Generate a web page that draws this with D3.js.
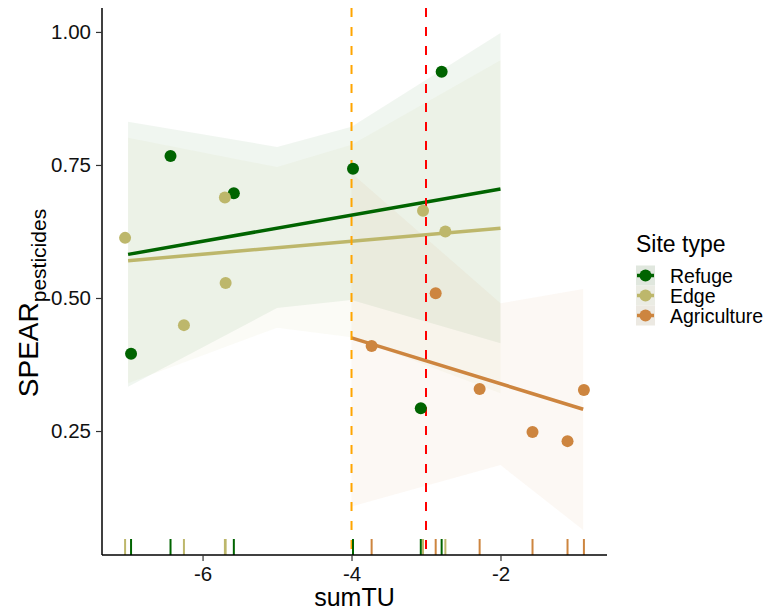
<!DOCTYPE html>
<html lang="en">
<head>
    <meta charset="utf-8">
    <title>SPEAR vs sumTU</title>
    <script type="text/javascript" src="https://cdn.jsdelivr.net/npm/d3@7"></script>
    <style type="text/css">
        body { margin: 0; background: #fff; }
        text { font-family: "Liberation Sans", Arial, sans-serif; }
    </style>
</head>
<body>
    <script type="text/javascript">

        //Width and height
        var w = 776;
        var h = 614;

        //Site types and colours
        var groups = ["Refuge", "Edge", "Agriculture"];
        var colors = ["#006400", "#BDB76B", "#CD853F"];

        //Observed points (sumTU, SPEAR)
        var refugeX = [-6.96, -6.43, -5.58, -3.98, -3.07, -2.79];
        var refugeY = [0.395, 0.767, 0.697, 0.743, 0.293, 0.925];
        var edgeX = [-7.04, -6.25, -5.69, -5.70, -3.04, -2.74];
        var edgeY = [0.613, 0.449, 0.528, 0.689, 0.664, 0.625];
        var agriX = [-3.73, -2.87, -2.28, -1.57, -1.10, -0.88];
        var agriY = [0.410, 0.509, 0.329, 0.248, 0.231, 0.327];

        //Fitted lines
        var refugeFitX = [-7, -2], refugeFitY = [0.582, 0.705];
        var edgeFitX = [-7, -2], edgeFitY = [0.570, 0.631];
        var agriFitX = [-4, -0.89], agriFitY = [0.425, 0.291];

        //Confidence bands
        var refugeBandX = [-7, -5, -4, -2];
        var refugeLo = [0.333, 0.481, 0.496, 0.415];
        var refugeHi = [0.831, 0.784, 0.822, 0.998];
        var edgeBandX = [-7, -5, -4, -2];
        var edgeLo = [0.340, 0.444, 0.426, 0.321];
        var edgeHi = [0.801, 0.746, 0.788, 0.947];
        var agriBandX = [-4, -2, -0.89];
        var agriLo = [0.108, 0.186, 0.064];
        var agriHi = [0.735, 0.490, 0.517];

        //Thresholds
        var thresholds = [-4, -3];
        var thresholdColors = ["#FFA500", "#FF0000"];

        //Axis ticks
        var xTicks = [-6, -4, -2];
        var yTicks = [0.25, 0.50, 0.75, 1.00];

        var zip = function (xs, ys) { return xs.map(function (x, i) { return [x, ys[i]]; }); };

        var series = [
            { pts: zip(refugeX, refugeY), fit: zip(refugeFitX, refugeFitY), band: refugeBandX.map(function (x, i) { return [x, refugeLo[i], refugeHi[i]]; }) },
            { pts: zip(edgeX, edgeY), fit: zip(edgeFitX, edgeFitY), band: edgeBandX.map(function (x, i) { return [x, edgeLo[i], edgeHi[i]]; }) },
            { pts: zip(agriX, agriY), fit: zip(agriFitX, agriFitY), band: agriBandX.map(function (x, i) { return [x, agriLo[i], agriHi[i]]; }) }
        ];

        //Panel
        var pL = 102, pR = 607, pT = 8, pB = 555;

        var x = d3.scaleLinear().domain([-7.35, -0.57]).range([pL, pR]);
        var y = d3.scaleLinear().domain([0.017, 1.045]).range([pB, pT]);

        //Create SVG element
        var svg = d3.select("body")
            .append("svg")
            .attr("width", w)
            .attr("height", h);

        //Bands
        var area = d3.area()
            .x(function (d) { return x(d[0]); })
            .y0(function (d) { return y(d[1]); })
            .y1(function (d) { return y(d[2]); });

        svg.selectAll("path.band")
            .data(series)
            .enter()
            .append("path")
            .attr("class", "band")
            .attr("d", function (d) { return area(d.band); })
            .style("fill", function (d, i) { return colors[i]; })
            .style("fill-opacity", 0.06);

        //Fit lines
        var line = d3.line()
            .x(function (d) { return x(d[0]); })
            .y(function (d) { return y(d[1]); });

        svg.selectAll("path.fit")
            .data(series)
            .enter()
            .append("path")
            .attr("class", "fit")
            .attr("d", function (d) { return line(d.fit); })
            .style("fill", "none")
            .style("stroke", function (d, i) { return colors[i]; })
            .style("stroke-width", 3.5);

        //Threshold lines
        svg.selectAll("line.thr")
            .data(thresholds)
            .enter()
            .append("line")
            .attr("class", "thr")
            .attr("x1", function (d) { return x(d); })
            .attr("x2", function (d) { return x(d); })
            .attr("y1", pT)
            .attr("y2", pB)
            .style("stroke", function (d, i) { return thresholdColors[i]; })
            .style("stroke-width", 2)
            .style("stroke-dasharray", "9,10");

        //Rug
        series.forEach(function (s, i) {
            svg.selectAll("line.rug" + i)
                .data(s.pts)
                .enter()
                .append("line")
                .attr("class", "rug" + i)
                .attr("x1", function (d) { return x(d[0]); })
                .attr("x2", function (d) { return x(d[0]); })
                .attr("y1", pB - 16)
                .attr("y2", pB)
                .style("stroke", colors[i])
                .style("stroke-width", 2);
        });

        //Points
        series.forEach(function (s, i) {
            svg.selectAll("circle.pt" + i)
                .data(s.pts)
                .enter()
                .append("circle")
                .attr("class", "pt" + i)
                .attr("cx", function (d) { return x(d[0]); })
                .attr("cy", function (d) { return y(d[1]); })
                .attr("r", 6)
                .style("fill", colors[i]);
        });

        //Axes
        var xAxis = d3.axisBottom(x).tickValues(xTicks).tickSize(6).tickPadding(5).tickFormat(function (d) { return String(d); });
        var yAxis = d3.axisLeft(y).tickValues(yTicks).tickSize(6).tickPadding(5).tickFormat(d3.format(".2f"));

        var gx = svg.append("g")
            .attr("transform", "translate(0," + pB + ")")
            .call(xAxis);
        gx.select(".domain").attr("d", "M" + pL + ",0H" + pR);

        var gy = svg.append("g")
            .attr("transform", "translate(" + pL + ",0)")
            .call(yAxis);
        gy.select(".domain").attr("d", "M0," + pT + "V" + pB);

        [gx, gy].forEach(function (g) {
            g.selectAll(".domain").style("stroke", "#000").style("stroke-width", 1.5);
            g.selectAll(".tick line").style("stroke", "#333").style("stroke-width", 1.2);
            g.selectAll(".tick text")
                .style("font-family", "'Liberation Sans', Arial, sans-serif")
                .style("font-size", "20.5px")
                .style("fill", "#111");
        });

        //Axis titles
        svg.append("text")
            .attr("x", (pL + pR) / 2)
            .attr("y", 606)
            .attr("text-anchor", "middle")
            .style("font-size", "25px")
            .text("sumTU");

        var yt = svg.append("text")
            .attr("transform", "translate(38,303) rotate(-90)")
            .attr("text-anchor", "middle")
            .style("font-size", "28px");
        yt.append("tspan").text("SPEAR");
        yt.append("tspan").attr("dy", 8).style("font-size", "21px").text("pesticides");

        //Legend
        var legend = svg.append("g").attr("transform", "translate(636,0)");
        legend.append("text")
            .attr("x", 0)
            .attr("y", 251.5)
            .style("font-size", "23px")
            .text("Site type");

        var keys = legend.selectAll("g.key")
            .data(groups)
            .enter()
            .append("g")
            .attr("class", "key")
            .attr("transform", function (d, i) { return "translate(0," + (265.5 + i * 20) + ")"; });

        keys.append("rect")
            .attr("width", 19)
            .attr("height", 20)
            .style("fill", "#eef0ec");
        keys.append("rect")
            .attr("width", 19)
            .attr("height", 20)
            .style("fill", function (d, i) { return colors[i]; })
            .style("fill-opacity", 0.06);
        keys.append("line")
            .attr("x1", 1).attr("x2", 18)
            .attr("y1", 10).attr("y2", 10)
            .style("stroke", function (d, i) { return colors[i]; })
            .style("stroke-width", 3.5);
        keys.append("circle")
            .attr("cx", 9.5).attr("cy", 10).attr("r", 6)
            .style("fill", function (d, i) { return colors[i]; });
        keys.append("text")
            .attr("x", 34)
            .attr("y", 17)
            .style("font-size", "19.5px")
            .text(function (d) { return d; });
    </script>
</body>
</html>
